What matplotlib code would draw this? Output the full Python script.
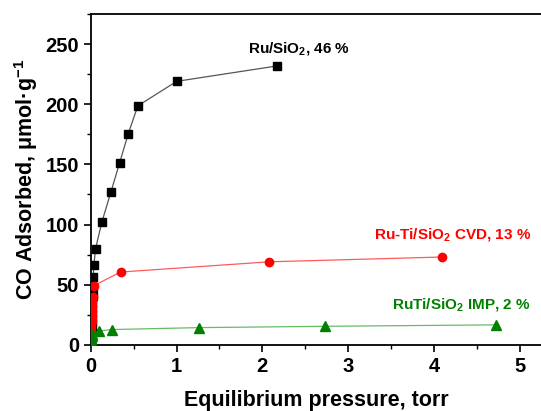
import matplotlib
matplotlib.use("Agg")
import matplotlib.pyplot as plt
from matplotlib.ticker import MultipleLocator

plt.rcParams['font.family'] = ['Liberation Sans', 'DejaVu Sans']
plt.rcParams['font.weight'] = 'bold'
plt.rcParams['mathtext.fontset'] = 'custom'
plt.rcParams['mathtext.rm'] = 'Liberation Sans:bold'
plt.rcParams['mathtext.bf'] = 'Liberation Sans:bold'
plt.rcParams['mathtext.it'] = 'Liberation Sans:bold'

# Ru/SiO2 (black squares)
ru_x = [0.003, 0.006, 0.009, 0.012, 0.015, 0.018, 0.021, 0.024, 0.027, 0.035, 0.054, 0.128, 0.233, 0.334, 0.434, 0.547, 1.0, 2.17]
ru_y = [3, 8, 14, 20, 27, 34, 41, 48, 56, 66.3, 79.8, 102, 126.9, 151, 175, 198.6, 219, 231.8]

# Ru-Ti/SiO2 CVD (red circles)
cvd_x = [0.002, 0.003, 0.004, 0.005, 0.006, 0.007, 0.008, 0.010, 0.012, 0.014, 0.017, 0.020, 0.035, 0.346, 2.08, 4.10]
cvd_y = [2, 5, 8, 11, 14, 17, 20, 24, 28, 32, 36, 40, 49.2, 60.5, 69, 73]

# RuTi/SiO2 IMP (green triangles)
imp_x = [0.002, 0.003, 0.004, 0.006, 0.008, 0.012, 0.097, 0.25, 1.257, 2.73, 4.73]
imp_y = [1, 2.5, 4, 5.5, 7, 9, 11.6, 12.7, 14.3, 15.4, 16.6]

fig = plt.figure(figsize=(5.41, 4.11), dpi=100)
ax = fig.add_axes([0.168, 0.161, 0.832, 0.805])

ax.plot(ru_x, ru_y, '-', color='#555555', lw=0.9, zorder=2)
ax.plot(ru_x, ru_y, 's', color='black', ms=5.5, zorder=3)
ax.plot(cvd_x, cvd_y, '-', color='#ff5a5a', lw=0.9, zorder=2)
ax.plot(cvd_x, cvd_y, 'o', color='#ff0000', ms=6, zorder=3)
ax.plot(imp_x, imp_y, '-', color='#66bb66', lw=0.9, zorder=2)
ax.plot(imp_x, imp_y, '^', color='#008000', ms=6.5, zorder=3)

ax.set_xlim(0, 5.25)
ax.set_ylim(0, 275)
ax.xaxis.set_major_locator(MultipleLocator(1))
ax.xaxis.set_minor_locator(MultipleLocator(0.5))
ax.yaxis.set_major_locator(MultipleLocator(50))
ax.yaxis.set_minor_locator(MultipleLocator(25))
ax.tick_params(which='major', direction='out', length=5, width=1.2, labelsize=14.5)
ax.tick_params(which='minor', direction='out', length=3, width=1.0)
ax.spines['right'].set_visible(False)
for s in ['left', 'bottom', 'top']:
    ax.spines[s].set_linewidth(1.3)
for lab in ax.get_xticklabels() + ax.get_yticklabels():
    lab.set_fontweight('bold')

ax.set_xlabel('Equilibrium pressure, torr', fontsize=15.5, fontweight='bold', labelpad=10)
ax.set_ylabel('CO Adsorbed, μmol·g$^{-1}$', fontsize=15.5, fontweight='bold', labelpad=4)

ax.text(1.83, 243, 'Ru/SiO$_2$, 46 %', fontsize=11, fontweight='bold', color='black', ha='left', va='baseline')
ax.text(5.13, 91.4, 'Ru-Ti/SiO$_2$ CVD, 13 %', fontsize=11, fontweight='bold', color='#ff0000', ha='right', va='center')
ax.text(5.13, 33.4, 'RuTi/SiO$_2$ IMP, 2 %', fontsize=11, fontweight='bold', color='#008000', ha='right', va='center')

fig.savefig('out.png', dpi=100)
